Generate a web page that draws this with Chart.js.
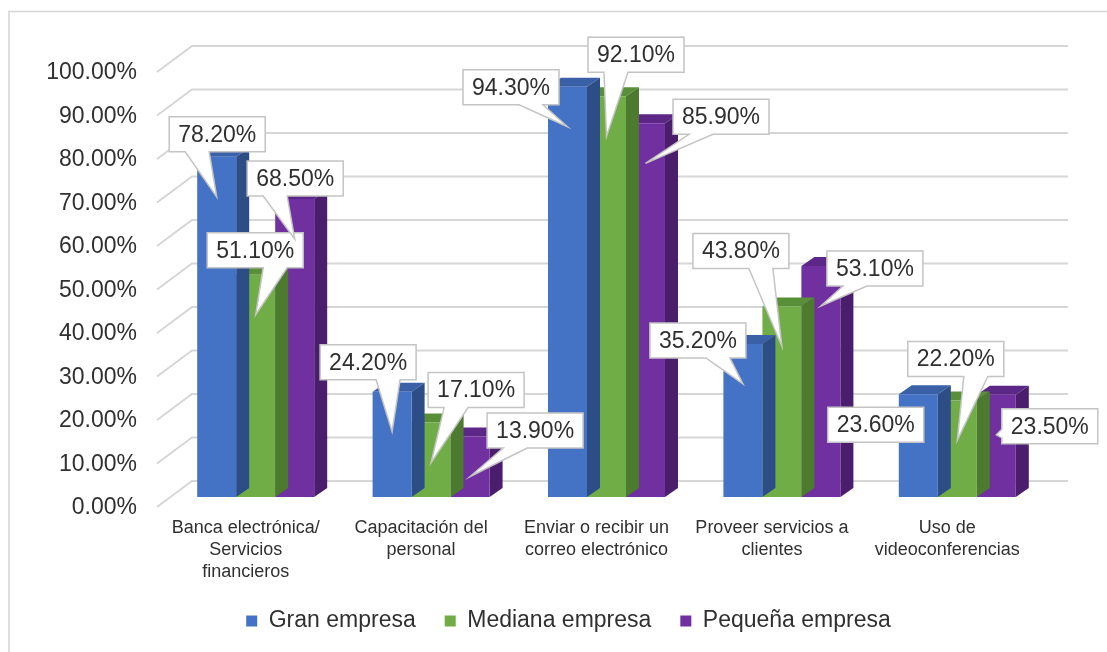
<!DOCTYPE html>
<html lang="es">
<head>
<meta charset="utf-8">
<title>Uso de TIC por tamaño de empresa</title>
<script src="https://cdn.jsdelivr.net/npm/chart.js@4.4.1/dist/chart.umd.min.js"></script>
<style>
  html, body { margin: 0; padding: 0; background: #fff; overflow: hidden; }
  canvas { display: block; }
</style>
</head>
<body>
<canvas id="chart" width="1107" height="652"></canvas>
<script>
const categories = [
  ['Banca electrónica/', 'Servicios', 'financieros'],
  ['Capacitación del', 'personal'],
  ['Enviar o recibir un', 'correo electrónico'],
  ['Proveer servicios a', 'clientes'],
  ['Uso de', 'videoconferencias']
];
const seriesNames = ['Gran empresa', 'Mediana empresa', 'Pequeña empresa'];
const granEmpresa = [78.2, 24.2, 94.3, 35.2, 23.6];
const medianaEmpresa = [51.1, 17.1, 92.1, 43.8, 22.2];
const pequenaEmpresa = [68.5, 13.9, 85.9, 53.1, 23.5];
const yTickValues = [0, 10, 20, 30, 40, 50, 60, 70, 80, 90, 100];

// face colours: front, top, side
const palette = [
  { front: '#4472c4', top: '#3a60a8', side: '#2d4d87' },
  { front: '#70ad47', top: '#5a8f39', side: '#4c7a2f' },
  { front: '#7030a0', top: '#5c2787', side: '#4a1e6c' }
];

// where each callout box sits, relative to the point its pointer touches
const calloutOffsets = [
  [[-47.5, -80], [-72, -87], [-104.5, -57], [-93, -61], [-90.5, -27]],
  [[-48.5, -82], [-3, -90], [-18.5, -99], [-89, -113], [-49.5, -99]],
  [[-47.5, -78], [17, -63.5], [27.5, -64], [6, -55], [5.5, -26]]
];

const FONT = '"Liberation Sans", Arial, sans-serif';
const TEXT = '#303030';
const BAR_DEPTH = { dx: 13, dy: -9 };
const WALL = { front: -11, back: 24, lift: 16, dy: 26 };
const BOX = { w: 96, h: 35 };
const POINTER_DROP = 40;
const LEGEND_SHIFT = 46;

Chart.defaults.font.family = FONT;

const fmt = v => v.toFixed(2) + '%';

function poly(ctx, pts, color) {
  ctx.beginPath();
  ctx.moveTo(pts[0][0], pts[0][1]);
  for (let i = 1; i < pts.length; i++) ctx.lineTo(pts[i][0], pts[i][1]);
  ctx.closePath();
  ctx.fillStyle = color;
  ctx.fill();
}

// rectangle callout with a wedge, laid out the way office charts do it
function drawCallout(ctx, l, t, w, h, tx, ty, text) {
  const r = l + w, b = t + h, hc = l + w / 2, vc = t + h / 2;
  const dx = tx - hc, dy = ty - vc;
  const inside = tx > l && tx < r && ty > t && ty < b;
  const dz = Math.abs(dy) - Math.abs(dx * h / w);
  const x1 = l + w * (dx > 0 ? 7 : 2) / 12, x2 = l + w * (dx > 0 ? 10 : 5) / 12;
  const y1 = t + h * (dy > 0 ? 7 : 2) / 12, y2 = t + h * (dy > 0 ? 10 : 5) / 12;

  ctx.beginPath();
  ctx.moveTo(l, t);
  if (!inside && dz > 0 && dy < 0) { ctx.lineTo(x1, t); ctx.lineTo(tx, ty); ctx.lineTo(x2, t); }
  ctx.lineTo(r, t);
  if (!inside && dz <= 0 && dx > 0) { ctx.lineTo(r, y1); ctx.lineTo(tx, ty); ctx.lineTo(r, y2); }
  ctx.lineTo(r, b);
  if (!inside && dz > 0 && dy > 0) { ctx.lineTo(x2, b); ctx.lineTo(tx, ty); ctx.lineTo(x1, b); }
  ctx.lineTo(l, b);
  if (!inside && dz <= 0 && dx < 0) { ctx.lineTo(l, y2); ctx.lineTo(tx, ty); ctx.lineTo(l, y1); }
  ctx.closePath();
  ctx.fillStyle = '#ffffff';
  ctx.fill();
  ctx.lineWidth = 1.5;
  ctx.strokeStyle = '#c4c4c4';
  ctx.stroke();

  ctx.fillStyle = TEXT;
  ctx.font = '23px ' + FONT;
  ctx.textAlign = 'center';
  ctx.textBaseline = 'middle';
  ctx.fillText(text, hc, vc + 1);
}

const pseudo3d = {
  id: 'pseudo3d',
  afterLayout(chart) {
    // legend sits centred under the plot rather than under the whole canvas
    chart.legend.left += LEGEND_SHIFT;
    chart.legend.right += LEGEND_SHIFT;
  },
  beforeDraw(chart) {
    const ctx = chart.ctx;
    ctx.save();
    ctx.strokeStyle = '#d9d9d9';
    ctx.lineWidth = 1.7;
    ctx.strokeRect(9, 11.5, 1200, 700);
    ctx.restore();
  },
  beforeDatasetsDraw(chart) {
    const { ctx, chartArea } = chart;
    const y = chart.scales.y;
    ctx.save();
    ctx.strokeStyle = '#d6d6d6';
    ctx.lineWidth = 2;
    yTickValues.forEach(v => {
      const by = y.getPixelForValue(v) - WALL.lift;
      ctx.beginPath();
      ctx.moveTo(chartArea.left + WALL.front, by + WALL.dy);
      ctx.lineTo(chartArea.left + WALL.back, by);
      ctx.lineTo(chartArea.right + WALL.back - 1, by);
      ctx.stroke();
    });
    ctx.restore();
  },
  beforeDatasetDraw(chart, args) {
    const ctx = chart.ctx;
    const c = palette[args.index];
    const { dx, dy } = BAR_DEPTH;
    ctx.save();
    args.meta.data.forEach(bar => {
      const l = bar.x - bar.width / 2, r = bar.x + bar.width / 2;
      poly(ctx, [[l, bar.y], [l + dx, bar.y + dy], [r + dx, bar.y + dy], [r, bar.y]], c.top);
      poly(ctx, [[r, bar.y], [r + dx, bar.y + dy], [r + dx, bar.base + dy], [r, bar.base]], c.side);
    });
    ctx.restore();
  },
  afterDatasetsDraw(chart) {
    const ctx = chart.ctx;
    ctx.save();
    chart.data.datasets.forEach((ds, si) => {
      chart.getDatasetMeta(si).data.forEach((bar, i) => {
        const tx = bar.x, ty = bar.y + POINTER_DROP;
        const [ox, oy] = calloutOffsets[si][i];
        drawCallout(ctx, tx + ox, ty + oy, BOX.w, BOX.h, tx, ty, fmt(ds.data[i]));
      });
    });
    ctx.restore();
  }
};

const series = [granEmpresa, medianaEmpresa, pequenaEmpresa];

new Chart(document.getElementById('chart'), {
  type: 'bar',
  data: {
    labels: categories,
    datasets: series.map((values, i) => ({
      label: seriesNames[i],
      data: values,
      backgroundColor: palette[i].front,
      borderWidth: 0,
      barPercentage: 1,
      categoryPercentage: 0.667
    }))
  },
  options: {
    responsive: false,
    animation: false,
    layout: { padding: { left: 0, top: 62, right: 62, bottom: 9.5 } },
    scales: {
      x: {
        grid: { display: false, drawTicks: false },
        border: { display: false },
        ticks: {
          color: TEXT,
          font: { size: 18, lineHeight: 1.22 },
          padding: 20,
          labelOffset: -10,
          maxRotation: 0,
          autoSkip: false
        },
        afterFit: s => { s.height = 83.5; }
      },
      y: {
        min: 0,
        max: 100,
        grid: { display: false, drawTicks: false },
        border: { display: false },
        afterBuildTicks: s => { s.ticks = yTickValues.map(v => ({ value: v })); },
        ticks: {
          color: TEXT,
          font: { size: 23 },
          padding: 31,
          labelOffset: 11,
          callback: v => fmt(v)
        },
        afterFit: s => { s.width = 168; }
      }
    },
    plugins: {
      legend: {
        position: 'bottom',
        labels: {
          color: TEXT,
          font: { size: 23 },
          boxWidth: 11,
          boxHeight: 11,
          padding: 29
        }
      },
      tooltip: { enabled: false }
    }
  },
  plugins: [pseudo3d]
});
</script>
</body>
</html>
